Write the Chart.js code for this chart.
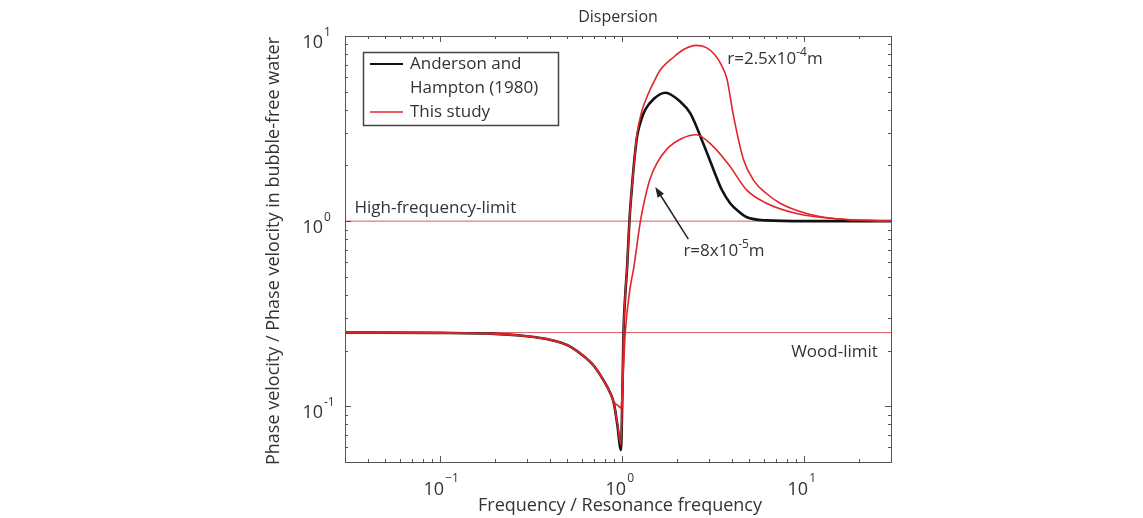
<!DOCTYPE html>
<html>
<head>
<meta charset="utf-8">
<script src="https://cdn.jsdelivr.net/npm/chart.js@4.4.0/dist/chart.umd.min.js"></script>
<style>
  html, body { margin: 0; padding: 0; background: #fff; }
  #wrap { width: 1143px; height: 518px; }
</style>
</head>
<body>
<div id="wrap"><canvas id="myChart" width="1143" height="518"></canvas></div>
<script>
// values (frequency / resonance frequency, velocity ratio)
const freqBlack = [0.03, 0.1, 0.2, 0.3, 0.4, 0.5, 0.6, 0.7, 0.79, 0.86, 0.9, 0.94, 0.985, 1.0, 1.017, 1.04, 1.065, 1.096, 1.13, 1.17, 1.21, 1.27, 1.34, 1.5, 1.73, 2.09, 2.37, 2.8, 3.18, 3.5, 3.92, 4.4, 4.84, 6.2, 10, 30];
const velBlack  = [0.25, 0.249, 0.246, 0.239, 0.229, 0.214, 0.19, 0.165, 0.138, 0.118, 0.104, 0.08, 0.058, 0.1, 0.25, 0.4, 0.567, 1.0, 1.5, 2.2, 2.9, 3.5, 4.0, 4.6, 4.94, 4.41, 3.82, 2.6, 1.89, 1.5, 1.25, 1.12, 1.05, 1.01, 1.0, 1.0];

const freqRedA = [0.03, 0.1, 0.2, 0.3, 0.4, 0.5, 0.6, 0.7, 0.79, 0.86, 0.9, 0.94, 0.985, 1.0, 1.017, 1.04, 1.065, 1.096, 1.13, 1.17, 1.21, 1.28, 1.37, 1.5, 1.62, 1.92, 2.2, 2.55, 2.9, 3.24, 3.5, 3.76, 4.09, 4.64, 5.3, 6.2, 7.37, 10.3, 15, 30];
const velRedA  = [0.25, 0.249, 0.246, 0.239, 0.229, 0.214, 0.19, 0.165, 0.138, 0.118, 0.104, 0.081, 0.062, 0.1, 0.25, 0.4, 0.567, 1.0, 1.5, 2.2, 3.0, 3.9, 4.7, 5.7, 6.55, 7.7, 8.5, 8.9, 8.65, 7.9, 7.0, 5.9, 3.7, 2.15, 1.65, 1.41, 1.25, 1.1, 1.03, 1.0];

const freqRedB = [0.03, 0.1, 0.2, 0.3, 0.4, 0.5, 0.6, 0.7, 0.79, 0.86, 0.9, 0.96, 0.985, 1.01, 1.04, 1.1, 1.16, 1.26, 1.34, 1.42, 1.55, 1.76, 2.1, 2.55, 3.18, 3.92, 4.84, 6.2, 9.1, 15, 30];
const velRedB  = [0.25, 0.249, 0.246, 0.239, 0.229, 0.214, 0.19, 0.165, 0.138, 0.118, 0.106, 0.1, 0.098, 0.14, 0.25, 0.42, 0.567, 1.0, 1.35, 1.68, 2.05, 2.45, 2.78, 2.93, 2.52, 1.97, 1.47, 1.25, 1.1, 1.03, 1.0];

const limitFreq = [0.03, 30];
const highLimit = [1, 1];
const woodLimit = [0.25, 0.25];

const seriesLabels = ['Anderson and\nHampton (1980)', 'This study'];
const xDecades = [-1, 0, 1];
const yDecades = [-1, 0, 1];

// annotations in data coordinates
const notes = [
  { f: 0.0338, v: 1.1, align: 'left', parts: [['High-frequency-limit', 0]] },
  { f: 25.4, v: 0.184, align: 'right', parts: [['Wood-limit', 0]] },
  { f: 3.78, v: 7.06, align: 'left', parts: [['r=2.5x10', 0], ['-4', 1], ['m', 0]] },
  { f: 2.17, v: 0.647, align: 'left', parts: [['r=8x10', 0], ['-5', 1], ['m', 0]] }
];
const arrowTail = [2.31, 0.80];
const arrowHead = [1.52, 1.53];

const RED = '#e2252b';
const TEXT = '#333';
const FONT = '"Open Sans", sans-serif';

const toPts = (xs, ys) => xs.map((x, i) => ({ x: x, y: ys[i] }));

function drawParts(ctx, parts, x, y, align, size) {
  let total = 0;
  parts.forEach(p => {
    ctx.font = (p[1] ? Math.round(size * 0.7) : size) + 'px ' + FONT;
    total += ctx.measureText(p[0]).width;
  });
  let cx = align === 'right' ? x - total : x;
  ctx.textAlign = 'left';
  ctx.textBaseline = 'alphabetic';
  parts.forEach(p => {
    ctx.font = (p[1] ? Math.round(size * 0.7) : size) + 'px ' + FONT;
    ctx.fillText(p[0], cx, p[1] ? y - size * 0.45 : y);
    cx += ctx.measureText(p[0]).width;
  });
}

const decorPlugin = {
  id: 'decor',
  afterDraw(chart) {
    const ctx = chart.ctx;
    const a = chart.chartArea;
    const xs = chart.scales.x, ys = chart.scales.y;
    ctx.save();

    // box
    ctx.strokeStyle = '#555';
    ctx.lineWidth = 1;
    ctx.strokeRect(a.left + 0.5, a.top + 0.5, a.right - a.left, a.bottom - a.top);

    // inward ticks, mirrored
    ctx.beginPath();
    for (let d = -2; d <= 1; d++) {
      for (let k = 1; k <= 9; k++) {
        const v = k * Math.pow(10, d);
        if (v < xs.min || v > xs.max) continue;
        const px = Math.round(xs.getPixelForValue(v)) + 0.5;
        const len = k === 1 ? 6 : 3;
        ctx.moveTo(px, a.bottom); ctx.lineTo(px, a.bottom - len);
        ctx.moveTo(px, a.top); ctx.lineTo(px, a.top + len);
      }
    }
    for (let d = -2; d <= 1; d++) {
      for (let k = 1; k <= 9; k++) {
        const v = k * Math.pow(10, d);
        if (v < ys.min || v > ys.max) continue;
        const py = Math.round(ys.getPixelForValue(v)) + 0.5;
        const len = k === 1 ? 6 : 3;
        ctx.moveTo(a.left, py); ctx.lineTo(a.left + len, py);
        ctx.moveTo(a.right, py); ctx.lineTo(a.right - len, py);
      }
    }
    ctx.stroke();

    ctx.fillStyle = TEXT;
    // tick labels 10^n
    xDecades.forEach(e => {
      const px = xs.getPixelForValue(Math.pow(10, e));
      ctx.font = '18px ' + FONT;
      ctx.textAlign = 'right';
      ctx.textBaseline = 'alphabetic';
      ctx.fillText('10', px + 4, a.bottom + 33);
      ctx.font = '12px ' + FONT;
      ctx.textAlign = 'left';
      ctx.fillText(e < 0 ? '\u2212' + (-e) : String(e), px + 5, a.bottom + 20);
    });
    yDecades.forEach(e => {
      const py = ys.getPixelForValue(Math.pow(10, e));
      ctx.font = '18px ' + FONT;
      ctx.textAlign = 'right';
      ctx.textBaseline = 'alphabetic';
      ctx.fillText('10', a.left - 22, py + 12);
      ctx.font = '12px ' + FONT;
      ctx.textAlign = 'left';
      ctx.fillText(e < 0 ? '-' + (-e) : String(e), a.left - 21, py);
    });

    // title and axis titles
    const cx = (a.left + a.right) / 2;
    ctx.font = '16px ' + FONT;
    ctx.textAlign = 'center';
    ctx.textBaseline = 'middle';
    ctx.fillText('Dispersion', cx, 17);
    ctx.font = '18px ' + FONT;
    ctx.fillText('Frequency / Resonance frequency', cx + 2, 506);
    ctx.save();
    ctx.translate(274, 251);
    ctx.rotate(-Math.PI / 2);
    ctx.fillText('Phase velocity / Phase velocity in bubble-free water', 0, 0);
    ctx.restore();

    // annotations
    notes.forEach(n => {
      drawParts(ctx, n.parts, xs.getPixelForValue(n.f), ys.getPixelForValue(n.v), n.align, 17);
    });

    // arrow
    const tx = xs.getPixelForValue(arrowTail[0]), ty = ys.getPixelForValue(arrowTail[1]);
    const hx = xs.getPixelForValue(arrowHead[0]), hy = ys.getPixelForValue(arrowHead[1]);
    const ang = Math.atan2(hy - ty, hx - tx);
    ctx.strokeStyle = '#222';
    ctx.lineWidth = 1.5;
    ctx.beginPath();
    ctx.moveTo(tx, ty);
    ctx.lineTo(hx - 6 * Math.cos(ang), hy - 6 * Math.sin(ang));
    ctx.stroke();
    ctx.fillStyle = '#222';
    ctx.beginPath();
    ctx.moveTo(hx, hy);
    ctx.lineTo(hx - 11 * Math.cos(ang - 0.35), hy - 11 * Math.sin(ang - 0.35));
    ctx.lineTo(hx - 11 * Math.cos(ang + 0.35), hy - 11 * Math.sin(ang + 0.35));
    ctx.closePath();
    ctx.fill();

    // legend
    const lx = a.left + 18, ly = a.top + 16;
    ctx.fillStyle = '#fff';
    ctx.fillRect(lx, ly, 195, 73);
    ctx.strokeStyle = '#444';
    ctx.lineWidth = 1.5;
    ctx.strokeRect(lx + 0.5, ly + 0.5, 195, 73);
    const items = [
      { color: '#111', width: 2, lines: seriesLabels[0].split('\n') },
      { color: RED, width: 1.5, lines: [seriesLabels[1]] }
    ];
    let row = 0;
    ctx.font = '17px ' + FONT;
    ctx.textAlign = 'left';
    ctx.textBaseline = 'middle';
    items.forEach(it => {
      const yy = ly + 12 + row * 24;
      ctx.strokeStyle = it.color;
      ctx.lineWidth = it.width;
      ctx.beginPath();
      ctx.moveTo(lx + 7, yy); ctx.lineTo(lx + 40, yy);
      ctx.stroke();
      ctx.fillStyle = TEXT;
      it.lines.forEach((t, i) => ctx.fillText(t, lx + 47, yy + i * 24));
      row += it.lines.length;
    });

    ctx.restore();
  }
};

const ctx = document.getElementById('myChart').getContext('2d');
const myChart = new Chart(ctx, {
  type: 'line',
  data: {
    datasets: [
      { label: 'r=2.5e-4', data: toPts(freqRedA, velRedA), borderColor: RED, borderWidth: 1.6 },
      { label: 'r=8e-5', data: toPts(freqRedB, velRedB), borderColor: RED, borderWidth: 1.6 },
      { label: 'Anderson and Hampton (1980)', data: toPts(freqBlack, velBlack), borderColor: '#111', borderWidth: 2.6 },
      { label: 'High-frequency-limit', data: toPts(limitFreq, highLimit), borderColor: 'rgba(215,60,60,0.85)', borderWidth: 1 },
      { label: 'Wood-limit', data: toPts(limitFreq, woodLimit), borderColor: 'rgba(215,60,60,0.85)', borderWidth: 1 }
    ]
  },
  options: {
    responsive: false,
    animation: false,
    layout: { padding: { top: 36, right: 252, left: 0, bottom: 0 } },
    elements: {
      point: { radius: 0 },
      line: { cubicInterpolationMode: 'monotone', fill: false }
    },
    plugins: {
      legend: { display: false },
      tooltip: { enabled: false },
      title: { display: false }
    },
    scales: {
      x: {
        type: 'logarithmic',
        min: 0.03,
        max: 30,
        grid: { display: false },
        border: { display: false },
        ticks: { display: false },
        afterFit: s => { s.height = 56; }
      },
      y: {
        type: 'logarithmic',
        min: 0.05,
        max: 10,
        grid: { display: false },
        border: { display: false },
        ticks: { display: false },
        afterFit: s => { s.width = 345; }
      }
    }
  },
  plugins: [decorPlugin]
});
</script>
</body>
</html>
